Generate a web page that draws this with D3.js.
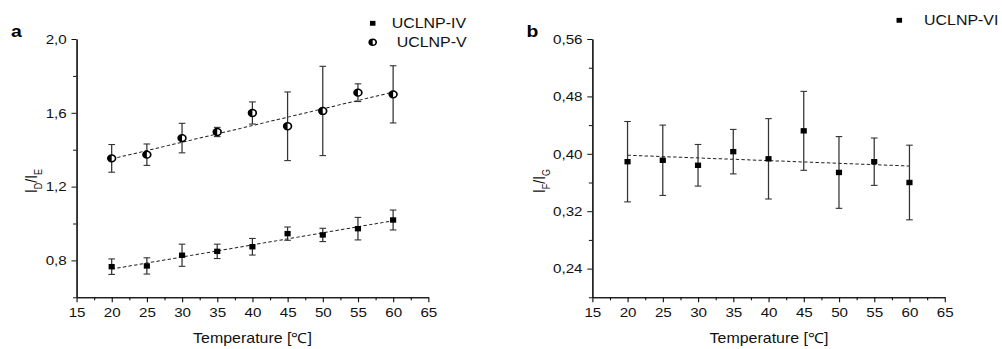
<!DOCTYPE html>
<html>
<head>
<meta charset="utf-8">
<script src="https://cdn.jsdelivr.net/npm/d3@7"></script>
<style>
  body { margin: 0; background: #fff; }
  svg { display: block; font-family: "Liberation Sans", Arial, sans-serif; }
</style>
</head>
<body>
<div id="chart"></div>
<script>
// temperatures (x) shared by both panels
const temps = [20, 25, 30, 35, 40, 45, 50, 55, 60];

// panel a - UCLNP-IV (squares)
const ivValues = [0.766, 0.770, 0.828, 0.849, 0.874, 0.945, 0.938, 0.972, 1.019];
const ivErrors = [0.042, 0.044, 0.060, 0.039, 0.045, 0.036, 0.036, 0.061, 0.054];
const ivFit = [0.753, 1.015]; // fit line at 20 and 60

// panel a - UCLNP-V (half filled circles)
const vValues = [1.353, 1.373, 1.463, 1.496, 1.599, 1.527, 1.610, 1.709, 1.700];
const vErrors = [0.075, 0.058, 0.080, 0.025, 0.060, 0.186, 0.242, 0.048, 0.155];
const vFit = [1.350, 1.712];

// panel b - UCLNP-VI (squares)
const viValues = [0.389, 0.391, 0.384, 0.403, 0.393, 0.432, 0.374, 0.389, 0.360];
const viErrors = [0.056, 0.049, 0.029, 0.031, 0.056, 0.055, 0.050, 0.033, 0.052];
const viFit = [0.398, 0.383];

const fitX = [20, 60];

// tick values
const xTicks = [15, 20, 25, 30, 35, 40, 45, 50, 55, 60, 65];
const xMinor = [17.5, 22.5, 27.5, 32.5, 37.5, 42.5, 47.5, 52.5, 57.5, 62.5];
const aYTicks = [0.8, 1.2, 1.6, 2.0];
const aYMinor = [0.6, 1.0, 1.4, 1.8];
const bYTicks = [0.24, 0.32, 0.40, 0.48, 0.56];
const bYMinor = [0.20, 0.28, 0.36, 0.44, 0.52];

// the original picture is stretched sideways, so the svg is too
const SX = 1.14;
const W = 1002, H = 349;
const VW = W / SX;
const X = px => px / SX; // screen px -> viewBox x

const svg = d3.select('#chart')
    .append('svg')
    .attr('width', W)
    .attr('height', H)
    .attr('viewBox', [0, 0, VW, H])
    .attr('preserveAspectRatio', 'none');

const plotTop = 39, plotBottom = 297.3;

function drawPanel(p) {
    const x = d3.scaleLinear().domain([15, 65]).range([X(p.left), X(p.right)]);
    const y = d3.scaleLinear().domain(p.yDomain).range([plotBottom, plotTop]);
    const g = svg.append('g');

    // x axis, major + minor ticks
    g.append('g')
        .attr('transform', `translate(0,${plotBottom})`)
        .call(d3.axisBottom(x).tickValues(xMinor).tickSize(3).tickSizeOuter(0).tickFormat(''));
    g.append('g')
        .attr('transform', `translate(0,${plotBottom})`)
        .call(d3.axisBottom(x).tickValues(xTicks).tickSize(5).tickSizeOuter(0).tickPadding(5).tickFormat(d3.format('d')));

    // y axis
    g.append('g')
        .attr('transform', `translate(${X(p.left)},0)`)
        .call(d3.axisLeft(y).tickValues(p.yMinor).tickSize(3).tickSizeOuter(0).tickFormat(''));
    g.append('g')
        .attr('transform', `translate(${X(p.left)},0)`)
        .call(d3.axisLeft(y).tickValues(p.yTicks).tickSize(4.4).tickSizeOuter(0).tickPadding(4.2)
            .tickFormat(d => d.toFixed(p.dec).replace('.', ',')));

    g.selectAll('.tick text').attr('font-size', 13.3).attr('fill', '#111').attr('font-family', null);
    g.selectAll('.domain, .tick line').attr('stroke', '#111');

    // axis titles
    g.append('text')
        .attr('x', X(p.titleX)).attr('y', 343)
        .attr('text-anchor', 'middle')
        .attr('font-size', 14).attr('fill', '#111')
        .text('Temperature [℃]');

    const yt = g.append('text')
        .attr('transform', `translate(${X(p.yTitleX)},181) rotate(-90)`)
        .attr('text-anchor', 'middle')
        .attr('font-size', 14).attr('fill', '#111');
    yt.append('tspan').text('I');
    yt.append('tspan').attr('font-size', 9).attr('dy', 4).text(p.sub[0]);
    yt.append('tspan').attr('dy', -4).text('/I');
    yt.append('tspan').attr('font-size', 9).attr('dy', 4).text(p.sub[1]);

    // panel letter
    g.append('text')
        .attr('x', X(p.letterX)).attr('y', 37.3)
        .attr('font-size', 17).attr('font-weight', 'bold').attr('fill', '#000')
        .text(p.letter);

    p.series.forEach(s => {
        // fit line
        g.append('path')
            .datum(fitX.map((t, i) => [t, s.fit[i]]))
            .attr('fill', 'none')
            .attr('stroke', '#222')
            .attr('stroke-width', 1)
            .attr('stroke-dasharray', '3,2')
            .attr('d', d3.line().x(d => x(d[0])).y(d => y(d[1])));

        const pts = temps.map((t, i) => ({t: t, v: s.values[i], e: s.errors[i]}));

        // error bars
        const eb = g.append('g').attr('stroke', '#333').attr('stroke-width', 1.1);
        eb.selectAll('.bar')
            .data(pts)
            .join('line')
            .attr('x1', d => x(d.t)).attr('x2', d => x(d.t))
            .attr('y1', d => y(d.v - d.e)).attr('y2', d => y(d.v + d.e));
        eb.selectAll('.capTop')
            .data(pts)
            .join('line')
            .attr('x1', d => x(d.t) - 2.9).attr('x2', d => x(d.t) + 2.9)
            .attr('y1', d => y(d.v + d.e)).attr('y2', d => y(d.v + d.e));
        eb.selectAll('.capBot')
            .data(pts)
            .join('line')
            .attr('x1', d => x(d.t) - 2.9).attr('x2', d => x(d.t) + 2.9)
            .attr('y1', d => y(d.v - d.e)).attr('y2', d => y(d.v - d.e));

        // markers
        g.append('g').selectAll('g')
            .data(pts)
            .join('g')
            .attr('transform', d => `translate(${x(d.t)},${y(d.v)})`)
            .each(function() { drawMarker(d3.select(this), s.marker, 1); });
    });

    // legend
    p.series.forEach((s, i) => {
        const lg = g.append('g').attr('transform', `translate(${X(p.legendX)},${p.legendY[i]})`);
        drawMarker(lg, s.marker, 0.9);
        lg.append('text')
            .attr('x', X(p.legendTextX[i]) - X(p.legendX))
            .attr('y', 5)
            .attr('font-size', 14).attr('fill', '#111')
            .text(s.name);
    });
}

function drawMarker(sel, type, k) {
    if (type === 'square') {
        const a = 5.4 * k;
        sel.append('rect')
            .attr('x', -a / 2).attr('y', -a / 2)
            .attr('width', a).attr('height', a)
            .attr('fill', '#000');
    } else {
        const r = 3.4 * k;
        sel.append('circle').attr('r', r).attr('fill', '#fff').attr('stroke', '#000').attr('stroke-width', 1.5);
        sel.append('path')
            .attr('d', `M0,${-r} A${r},${r} 0 0 0 0,${r} Z`)
            .attr('fill', '#000');
    }
}

drawPanel({
    left: 76.5, right: 428.3,
    yDomain: [0.6, 2.0], yTicks: aYTicks, yMinor: aYMinor, dec: 1,
    titleX: 252.5, yTitleX: 37, sub: ['D', 'E'],
    letter: 'a', letterX: 11,
    legendX: 372.7, legendY: [23.3, 42.3], legendTextX: [391.7, 396.7],
    series: [
        {name: 'UCLNP-IV', values: ivValues, errors: ivErrors, fit: ivFit, marker: 'square'},
        {name: 'UCLNP-V', values: vValues, errors: vErrors, fit: vFit, marker: 'circle'}
    ]
});

drawPanel({
    left: 592.3, right: 944.7,
    yDomain: [0.20, 0.56], yTicks: bYTicks, yMinor: bYMinor, dec: 2,
    titleX: 769, yTitleX: 545, sub: ['F', 'G'],
    letter: 'b', letterX: 526.5,
    legendX: 899.3, legendY: [20.3], legendTextX: [924],
    series: [
        {name: 'UCLNP-VI', values: viValues, errors: viErrors, fit: viFit, marker: 'square'}
    ]
});
</script>
</body>
</html>
